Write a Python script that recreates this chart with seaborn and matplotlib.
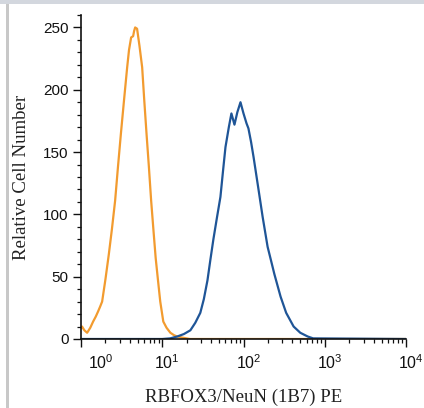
import numpy as np
import pandas as pd
import matplotlib
matplotlib.use("Agg")
import matplotlib.pyplot as plt
import matplotlib.ticker as mticker
import matplotlib.transforms as mtrans
from matplotlib.patches import Rectangle
import seaborn as sns

# ---- data ----
iso_x = [1.0, 1.03, 1.1, 1.19, 1.3, 1.41, 1.52, 1.62, 1.72, 1.82, 2.0, 2.2, 2.4, 2.63, 2.85,
         3.1, 3.4, 3.7, 3.9, 4.14, 4.38, 4.5, 4.64, 4.9, 5.25, 5.66, 6.0, 6.4, 6.85, 7.3,
         7.8, 8.3, 8.9, 9.45, 10.3, 11.3, 12.6, 14.0, 15.3, 18.0, 22.0, 100.0, 1000.0, 10000.0]
iso_y = [9, 10, 7, 5, 9, 14, 18, 22, 26, 30, 48, 68, 88, 111, 138,
         165, 193, 218, 232, 242, 243, 247, 250, 249, 235, 218, 192, 165, 138, 111,
         87, 65, 46, 30, 14, 9, 5, 3, 2, 1, 0, 0, 0, 0]

neun_x = [1.0, 10.0, 12.5, 15.3, 18.5, 22.2, 25.5, 29.4, 32.5, 36.0, 39.0, 42.6, 47.0, 52.0,
          56.0, 60.0, 66.0, 71.0, 77.4, 84.0, 91.8, 100.0, 109.0, 115.0, 124.0, 133.0, 153.0,
          172.0, 198.0, 220.0, 240.0, 286.0, 335.0, 414.0, 500.0, 617.0, 720.0, 10000.0]
neun_y = [0, 0, 0.5, 2, 4, 7, 13, 21, 32, 47, 63, 80, 97, 114,
          135, 154, 170, 181, 172, 182, 190, 181, 173, 169, 158, 146, 120,
          98, 74, 62, 52, 34, 21, 10, 5, 2, 0.5, 0]

series_names = ["Isotype", "RBFOX3/NeuN"]
series_colors = ["#F29B2F", "#1F5597"]

x_label = "RBFOX3/NeuN (1B7) PE"
y_label = "Relative Cell Number"
y_ticks = [0, 50, 100, 150, 200, 250]
x_ticks = [1, 10, 100, 1000, 10000]

df = pd.concat([
    pd.DataFrame({"x": iso_x, "y": iso_y, "s": series_names[0]}),
    pd.DataFrame({"x": neun_x, "y": neun_y, "s": series_names[1]}),
], ignore_index=True)

sns.set_theme(style="ticks")
plt.rcParams["font.family"] = ["Liberation Sans", "DejaVu Sans"]

fig = plt.figure(figsize=(4.24, 4.08), dpi=100)
ax = fig.add_axes([81 / 424, 1 - 339 / 408, (406 - 81) / 424, (339 - 15) / 408])

sns.lineplot(data=df, x="x", y="y", hue="s", palette=series_colors,
             estimator=None, sort=False, linewidth=1.6, legend=False, ax=ax)

ax.set_xscale("log")
ax.set_xlim(1, 10000)
ax.set_ylim(0, 260)
ax.set_xticks(x_ticks)
ax.xaxis.set_major_formatter(mticker.LogFormatterMathtext())
ax.xaxis.set_minor_locator(mticker.LogLocator(base=10, subs=np.arange(2, 10)))
ax.xaxis.set_minor_formatter(mticker.NullFormatter())
ax.set_yticks(y_ticks)
ax.yaxis.set_minor_locator(mticker.MultipleLocator(10))

for s in ["top", "right"]:
    ax.spines[s].set_visible(False)
for s in ["left", "bottom"]:
    ax.spines[s].set_color("#111111")
    ax.spines[s].set_linewidth(1.2)

ax.tick_params(axis="both", which="major", direction="out", length=6, width=1,
               color="#111111", labelsize=11, labelcolor="#111111", pad=3)
ax.tick_params(axis="both", which="minor", direction="out", length=3, width=0.9,
               color="#111111")
ax.tick_params(axis="x", which="major", pad=4, labelsize=11.5)

# shift x tick labels slightly right (first one more, clear of the y axis)
for i, lab in enumerate(ax.get_xticklabels()):
    dx = 20 if i == 0 else 5
    lab.set_transform(lab.get_transform() +
                      mtrans.ScaledTranslation(dx / 100, 0, fig.dpi_scale_trans))

ax.set_xlabel(x_label, family=["Liberation Serif", "DejaVu Serif"], fontsize=13.5,
              color="#222222", labelpad=12)
ax.set_ylabel(y_label, family=["Liberation Serif", "DejaVu Serif"], fontsize=13.5,
              color="#222222", labelpad=9)
ax.grid(False)

# screenshot frame
fig.add_artist(Rectangle((0, 1 - 4 / 408), 1, 4 / 408, transform=fig.transFigure,
                         color="#D3D7DE", lw=0))
fig.add_artist(Rectangle((6 / 424, 0), 3 / 424, 1 - 4 / 408, transform=fig.transFigure,
                         color="#C8C8C8", lw=0))

fig.savefig("out.png", dpi=100)
